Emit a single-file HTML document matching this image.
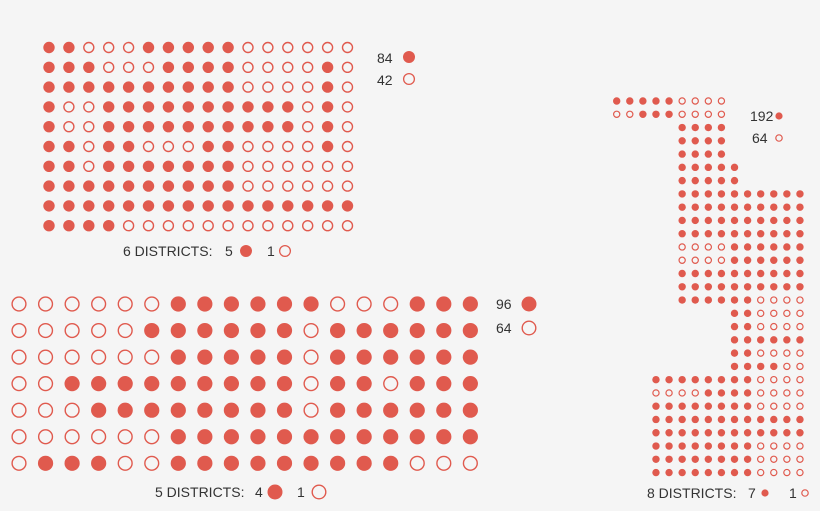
<!DOCTYPE html>
<html><head><meta charset="utf-8"><style>
html,body{margin:0;padding:0;background:#f5f5f5;}
svg{display:block;}
text{font-family:"Liberation Sans",sans-serif;font-size:14px;fill:#333;}
</style></head><body>
<svg id="s" width="820" height="511" xmlns="http://www.w3.org/2000/svg">
<rect width="820" height="511" fill="#f5f5f5"/>
<text x="377" y="63">84</text><circle cx="409" cy="57" r="6" fill="#e05a4e"/>
<text x="377" y="85">42</text><circle cx="409" cy="79" r="5.4" fill="none" stroke="#e05a4e" stroke-width="1.3"/>
<text x="123" y="256">6 DISTRICTS:</text>
<text x="225" y="256">5</text><circle cx="246" cy="251" r="6" fill="#e05a4e"/>
<text x="267" y="256">1</text><circle cx="285" cy="251" r="5.4" fill="none" stroke="#e05a4e" stroke-width="1.3"/>
<text x="496" y="309">96</text><circle cx="529" cy="304" r="7.5" fill="#e05a4e"/>
<text x="496" y="333">64</text><circle cx="529" cy="328" r="6.8" fill="none" stroke="#e05a4e" stroke-width="1.4"/>
<text x="155" y="497">5 DISTRICTS:</text>
<text x="255" y="497">4</text><circle cx="275" cy="492" r="7.5" fill="#e05a4e"/>
<text x="297" y="497">1</text><circle cx="319" cy="492" r="6.8" fill="none" stroke="#e05a4e" stroke-width="1.4"/>
<text x="750" y="121">192</text><circle cx="779" cy="116" r="3.6" fill="#e05a4e"/>
<text x="752" y="143">64</text><circle cx="779" cy="138" r="3.2" fill="none" stroke="#e05a4e" stroke-width="1.2"/>
<text x="647" y="498">8 DISTRICTS:</text>
<text x="748" y="498">7</text><circle cx="765" cy="493" r="3.6" fill="#e05a4e"/>
<text x="789" y="498">1</text><circle cx="805" cy="493" r="3.2" fill="none" stroke="#e05a4e" stroke-width="1.2"/>
</svg>
<script>
var s=document.getElementById('s'),NS='http://www.w3.org/2000/svg',C='#e05a4e';
function dot(x,y,r,f,sw){var c=document.createElementNS(NS,'circle');c.setAttribute('cx',x);c.setAttribute('cy',y);
if(f){c.setAttribute('r',r);c.setAttribute('fill',C);}else{c.setAttribute('r',r-sw/2);c.setAttribute('fill','none');c.setAttribute('stroke',C);c.setAttribute('stroke-width',sw);}
s.appendChild(c);}
var g1=["1100011111000000","1110001111000010","1111111111000010","1001111111111010","1001111111111010","1101100011000010","1101111111000000","1111111111000000","1111111111111111","1111000000000000"];
g1.forEach(function(r,i){for(var j=0;j<16;j++)dot(49+19.9*j,47.5+19.8*i,5.7,r[j]=='1',1.4);});
var g2=["000000111111000111","000001111110111111","000000111110111111","001111111110110111","000111111110111111","000000111111111111","011100111111111000"];
g2.forEach(function(r,i){for(var j=0;j<18;j++)dot(19+26.55*j,304+26.55*i,7.6,r[j]=='1',1.4);});
// right grid: 15 cols, 29 rows; ' ' = none
var g3=[
"111110000      ",
"001110000      ",
"     1111      ",
"     1111      ",
"     1111      ",
"     11111     ",
"     11111     ",
"     1111111111",
"     1111111111",
"     1111111111",
"     1111111111",
"     0000111111",
"     0000111111",
"     1111111111",
"     1111111111",
"     1111110000",
"         110000",
"         110000",
"         111111",
"         110000",
"         111100",
"   111111110000",
"   000011110000",
"   111111110000",
"   111111111111",
"   111111111111",
"   111111110000",
"   111111110000",
"   111111110000"];
g3.forEach(function(r,i){for(var j=0;j<15;j++){if(r[j]==' ')continue;dot(616.7+13.09*j,101+13.27*i,3.7,r[j]=='1',1.2);}});
</script>
</body></html>
